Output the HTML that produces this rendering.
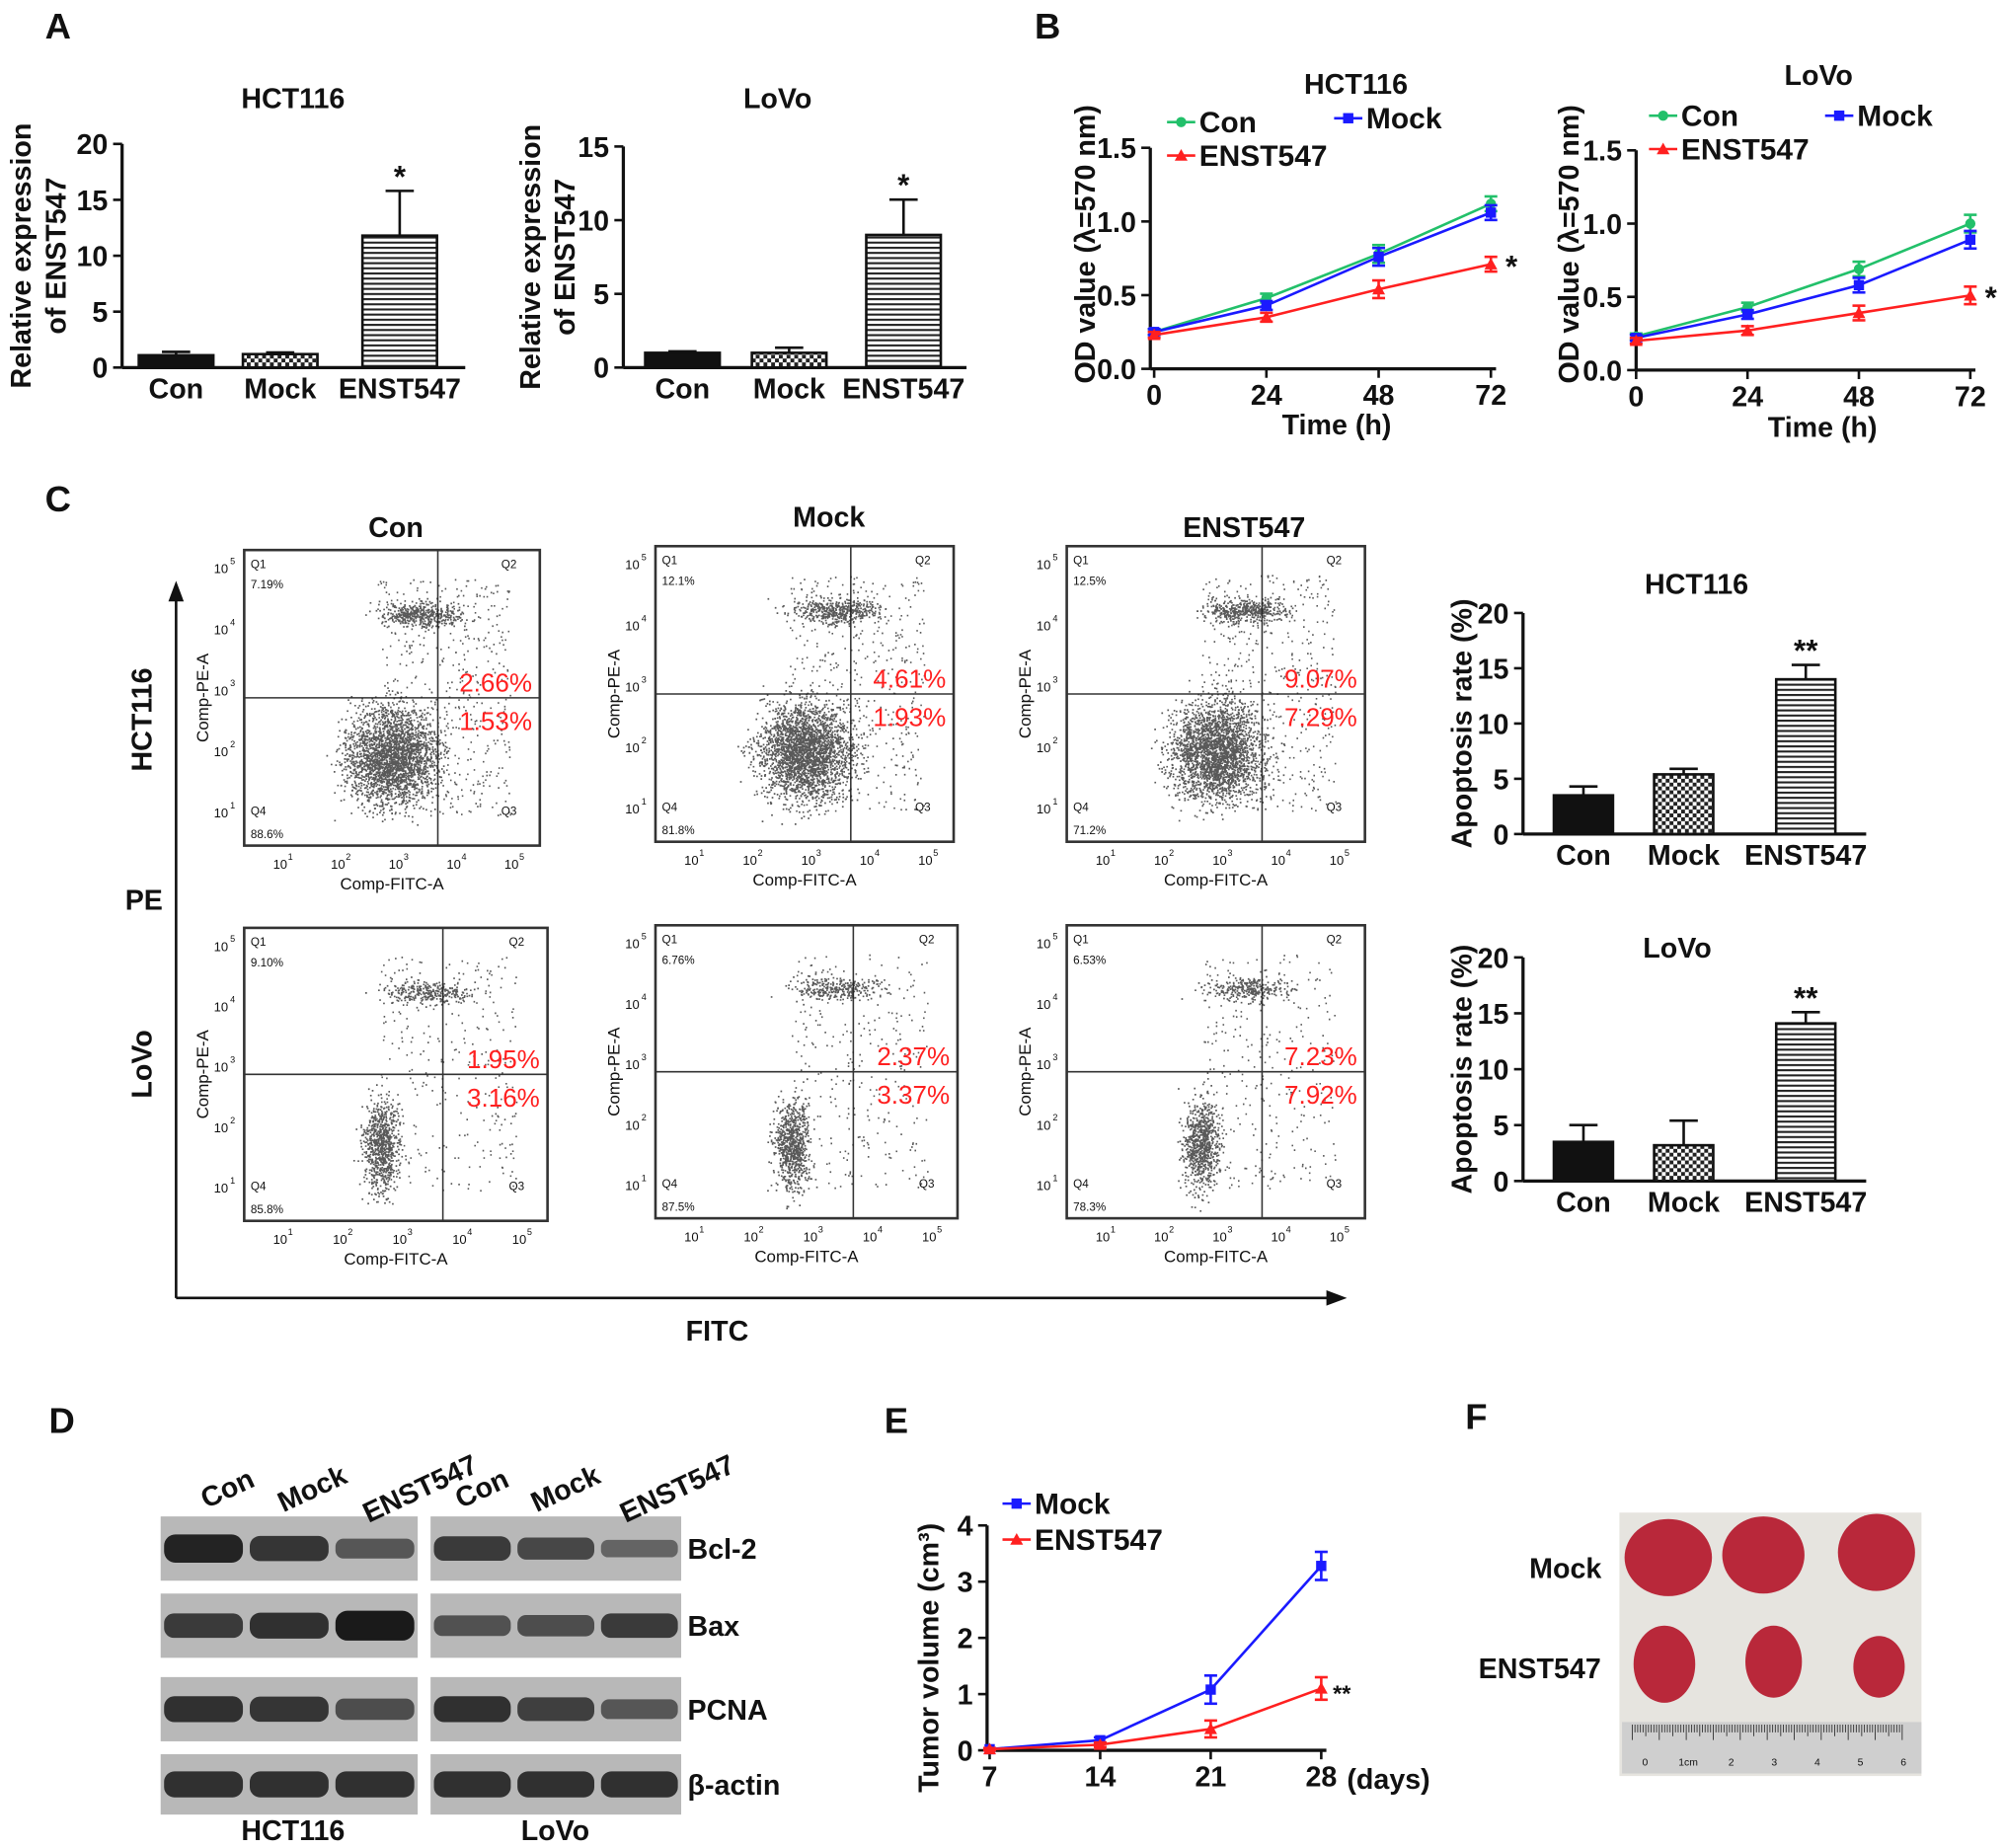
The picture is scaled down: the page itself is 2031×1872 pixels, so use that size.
<!DOCTYPE html>
<html><head><meta charset="utf-8"><style>
html,body{margin:0;padding:0;background:#fff}
svg{display:block}
text{font-family:"Liberation Sans",Arial,sans-serif}
</style></head><body>
<svg id="fig" width="2031" height="1872" viewBox="0 0 1560 1438" preserveAspectRatio="none" xmlns="http://www.w3.org/2000/svg">
<defs>
<pattern id="check" width="6" height="6" patternUnits="userSpaceOnUse"><rect width="6" height="6" fill="#fff"/><rect width="3" height="3" fill="#222"/><rect x="3" y="3" width="3" height="3" fill="#222"/></pattern>
<pattern id="hstripe" width="6" height="4" patternUnits="userSpaceOnUse"><rect width="6" height="4" fill="#fff"/><rect width="6" height="1.6" fill="#222"/></pattern>
</defs>
<g id="root"></g>
</svg>
<script>
// ---- Panel A data ----
const aCats=["Con","Mock","ENST547"];
const aHctVals=[1.1,1.2,11.8];
const aHctErr=[0.3,0.15,4.0];
const aLovoVals=[1.0,1.0,9.0];
const aLovoErr=[0.1,0.35,2.4];
const aHctTicks=[0,5,10,15,20];
const aLovoTicks=[0,5,10,15];
// ---- Panel B data ----
const bTimes=[0,24,48,72];
const bHctCon=[0.25,0.48,0.78,1.12];
const bHctMock=[0.25,0.43,0.76,1.06];
const bHctEnst=[0.23,0.35,0.54,0.71];
const bHctErr=[0.02,0.03,0.06,0.05];
const bLovoCon=[0.23,0.43,0.69,1.0];
const bLovoMock=[0.22,0.38,0.58,0.89];
const bLovoEnst=[0.2,0.27,0.39,0.51];
const bLovoErr=[0.02,0.03,0.05,0.06];
const bYTicks=[0.0,0.5,1.0,1.5];
// ---- Panel C apoptosis ----
const cHctVals=[3.5,5.4,14.0];
const cHctErr=[0.8,0.5,1.3];
const cLovoVals=[3.5,3.2,14.1];
const cLovoErr=[1.5,2.2,1.0];
const cTicks=[0,5,10,15,20];
const flowQ2=["2.66%","4.61%","9.07%","1.95%","2.37%","7.23%"];
const flowQ3=["1.53%","1.93%","7.29%","3.16%","3.37%","7.92%"];
const flowQ1=["7.19%","12.1%","12.5%","9.10%","6.76%","6.53%"];
const flowQ4=["88.6%","81.8%","71.2%","85.8%","87.5%","78.3%"];
// ---- Panel E ----
const eDays=[7,14,21,28];
const eMock=[0.02,0.18,1.08,3.28];
const eMockErr=[0.02,0.05,0.25,0.25];
const eEnst=[0.02,0.1,0.38,1.1];
const eEnstErr=[0.02,0.04,0.15,0.2];
const eTicks=[0,1,2,3,4];

const NS="http://www.w3.org/2000/svg";
const root=document.getElementById('root');
function el(tag,attrs,parent,txt){const e=document.createElementNS(NS,tag);for(const k in attrs)e.setAttribute(k,attrs[k]);if(txt!==undefined)e.textContent=txt;(parent||root).appendChild(e);return e;}
function T(x,y,s,size,opts){opts=opts||{};const t=el('text',{x:x,y:y,'font-size':size,'font-weight':opts.w||'bold','text-anchor':opts.a||'middle',fill:opts.fill||'#111'},opts.p,s);if(opts.rot)t.setAttribute('transform','rotate(-90 '+x+' '+y+')');return t;}

[["A",35,30],["B",805,30],["C",35,398],["D",38,1115],["E",688,1115],["F",1140,1112]].forEach(p=>{T(p[1],p[2],p[0],28,{a:'start',name:'panel-letter-'+p[0].toLowerCase()});});

function barChart(o){
  const g=el('g',{});
  
  
  const ys=v=>o.y0-(v/o.max)*(o.y0-o.ytop);
  el('line',{x1:o.ax,y1:o.ytop,x2:o.ax,y2:o.y0,stroke:'#111','stroke-width':2.5},g);
  el('line',{x1:o.ax,y1:o.y0,x2:o.xend,y2:o.y0,stroke:'#111','stroke-width':2.5},g);
  o.ticks.forEach(t=>{const y=ys(t);el('line',{x1:o.ax-7,y1:y,x2:o.ax,y2:y,stroke:'#111','stroke-width':2},g);T(o.ax-11,y+8,String(t),22,{a:'end',p:g,name:'y-tick-label'});});
  const fills=['#111','url(#check)','url(#hstripe)'];
  o.vals.forEach((v,i)=>{
    const cx=o.cx[i],y=ys(v);
    const r=el('rect',{x:cx-o.bw/2,y:y,width:o.bw,height:o.y0-y,fill:fills[i],stroke:'#111','stroke-width':2},g);
    
    
    const ye=ys(v+o.err[i]);
    el('line',{x1:cx,y1:y,x2:cx,y2:ye,stroke:'#111','stroke-width':2},g);
    el('line',{x1:cx-11,y1:ye,x2:cx+11,y2:ye,stroke:'#111','stroke-width':2},g);
    T(cx,o.y0+24,aCats[i],22,{p:g,name:'x-tick-label'});
    if(i==2)T(cx,ye-3,o.star,24,{p:g,name:'significance-star'});
  });
  T(o.titleX,o.titleY,o.title,22,{p:g,name:'chart-title'});
  if(o.ylab){o.ylab.forEach((l,k)=>T(o.ylabX+k*27,(o.y0+o.ytop)/2,l,22,{rot:1,p:g,name:'y-axis-title'}));}
}
barChart({name:'chart-a-hct116',ax:95,xend:362,y0:286,ytop:112,max:20,ticks:aHctTicks,vals:aHctVals,err:aHctErr,cx:[137,218,311],bw:58,star:'*',title:'HCT116',titleX:228,titleY:84,ylab:['Relative expression','of ENST547'],ylabX:24});
barChart({name:'chart-a-lovo',ax:485,xend:752,y0:286,ytop:114,max:15,ticks:aLovoTicks,vals:aLovoVals,err:aLovoErr,cx:[531,614,703],bw:58,star:'*',title:'LoVo',titleX:605,titleY:84,ylab:['Relative expression','of ENST547'],ylabX:420});
barChart({name:'chart-c-hct116-apoptosis',ax:1185,xend:1452,y0:649,ytop:477,max:20,ticks:cTicks,vals:cHctVals,err:cHctErr,cx:[1232,1310,1405],bw:46,star:'**',title:'HCT116',titleX:1320,titleY:462,ylab:['Apoptosis rate (%)'],ylabX:1145});
barChart({name:'chart-c-lovo-apoptosis',ax:1185,xend:1452,y0:919,ytop:745,max:20,ticks:cTicks,vals:cLovoVals,err:cLovoErr,cx:[1232,1310,1405],bw:46,star:'**',title:'LoVo',titleX:1305,titleY:745,ylab:['Apoptosis rate (%)'],ylabX:1145});

function lineChart(o){
  const g=el('g',{});
  
  
  const xs=v=>o.x0+(v-o.xmin)/(o.xmax-o.xmin)*(o.x1-o.x0);
  const ys=v=>o.y0-(v/o.ymax)*(o.y0-o.ytop);
  el('line',{x1:o.ax,y1:o.ytop,x2:o.ax,y2:o.y0,stroke:'#111','stroke-width':2.5},g);
  el('line',{x1:o.ax,y1:o.y0,x2:o.x1+4,y2:o.y0,stroke:'#111','stroke-width':2.5},g);
  o.yticks.forEach(t=>{const y=ys(t);el('line',{x1:o.ax-7,y1:y,x2:o.ax,y2:y,stroke:'#111','stroke-width':2},g);T(o.ax-11,y+8,o.yfmt(t),22,{a:'end',p:g,name:'y-tick-label'});});
  o.xticks.forEach(t=>{const x=xs(t);el('line',{x1:x,y1:o.y0,x2:x,y2:o.y0+7,stroke:'#111','stroke-width':2},g);T(x,o.y0+28,String(t),22,{p:g,name:'x-tick-label'});});
  o.series.forEach(s=>{
    const pts=o.xticks.map((t,i)=>xs(t)+','+ys(s.v[i])).join(' ');
    const pl=el('polyline',{points:pts,fill:'none',stroke:s.c,'stroke-width':2},g);
    
    
    o.xticks.forEach((t,i)=>{const x=xs(t),y=ys(s.v[i]),e=s.e[i];
      el('line',{x1:x,y1:ys(s.v[i]+e),x2:x,y2:ys(s.v[i]-e),stroke:s.c,'stroke-width':2},g);
      el('line',{x1:x-5,y1:ys(s.v[i]+e),x2:x+5,y2:ys(s.v[i]+e),stroke:s.c,'stroke-width':2},g);
      el('line',{x1:x-5,y1:ys(s.v[i]-e),x2:x+5,y2:ys(s.v[i]-e),stroke:s.c,'stroke-width':2},g);
      if(s.m=='sq')el('rect',{x:x-4,y:y-4,width:8,height:8,fill:s.c},g);
      else if(s.m=='tri')el('polygon',{points:(x)+','+(y-5)+' '+(x-5)+','+(y+4)+' '+(x+5)+','+(y+4),fill:s.c},g);
      else el('circle',{cx:x,cy:y,r:4,fill:s.c},g);
    });
    if(s.star){const l=s.v.length-1;T(xs(o.xticks[l])+16,ys(s.v[l])+10,s.star,s.star.length>1?18:24,{p:g,name:'significance-star'});}
  });
  o.legend.forEach(L=>{el('line',{x1:L.x,y1:L.y,x2:L.x+22,y2:L.y,stroke:L.c,'stroke-width':2},g);
    if(L.m=='sq')el('rect',{x:L.x+7,y:L.y-4,width:8,height:8,fill:L.c},g);else if(L.m=='tri')el('polygon',{points:(L.x+11)+','+(L.y-5)+' '+(L.x+6)+','+(L.y+4)+' '+(L.x+16)+','+(L.y+4),fill:L.c},g);else el('circle',{cx:L.x+11,cy:L.y,r:4,fill:L.c},g);
    T(L.x+25,L.y+8,L.t,23,{a:'start',p:g,name:'legend-entry'});});
  if(o.title)T(o.title[0],o.title[1],o.title[2],22,{p:g,name:'chart-title'});
  T(o.ylab[0],o.ylab[1],o.ylab[2],22,{rot:1,p:g,name:'y-axis-title'});
  T(o.xlab[0],o.xlab[1],o.xlab[2],22,{p:g,name:'x-axis-title',a:o.xlab[3]||'middle'});
}
const G='#22c06a',B='#1a1aff',R='#ff2020';
lineChart({name:'chart-b-hct116',ax:895,x0:898,x1:1160,xmin:0,xmax:72,y0:287,ytop:115,ymax:1.5,yticks:bYTicks,yfmt:t=>t.toFixed(1),xticks:bTimes,
 series:[{n:'con',v:bHctCon,e:bHctErr,c:G,m:'c'},{n:'mock',v:bHctMock,e:bHctErr,c:B,m:'sq'},{n:'enst547',v:bHctEnst,e:bHctErr,c:R,m:'tri',star:'*'}],
 legend:[{x:908,y:95,c:G,m:'c',t:'Con'},{x:1038,y:92,c:B,m:'sq',t:'Mock'},{x:908,y:121,c:R,m:'tri',t:'ENST547'}],
 title:[1055,73,'HCT116'],ylab:[852,190,'OD value (λ=570 nm)'],xlab:[1040,338,'Time (h)']});
lineChart({name:'chart-b-lovo',ax:1273,x0:1273,x1:1533,xmin:0,xmax:72,y0:288,ytop:117,ymax:1.5,yticks:bYTicks,yfmt:t=>t.toFixed(1),xticks:bTimes,
 series:[{n:'con',v:bLovoCon,e:bLovoErr,c:G,m:'c'},{n:'mock',v:bLovoMock,e:bLovoErr,c:B,m:'sq'},{n:'enst547',v:bLovoEnst,e:bLovoErr,c:R,m:'tri',star:'*'}],
 legend:[{x:1283,y:90,c:G,m:'c',t:'Con'},{x:1420,y:90,c:B,m:'sq',t:'Mock'},{x:1283,y:116,c:R,m:'tri',t:'ENST547'}],
 title:[1415,66,'LoVo'],ylab:[1228,190,'OD value (λ=570 nm)'],xlab:[1418,340,'Time (h)']});
lineChart({name:'chart-e-tumor-volume',ax:768,x0:770,x1:1028,xmin:7,xmax:28,y0:1362,ytop:1187,ymax:4,yticks:eTicks,yfmt:t=>String(t),xticks:eDays,
 series:[{n:'mock',v:eMock,e:eMockErr,c:B,m:'sq'},{n:'enst547',v:eEnst,e:eEnstErr,c:R,m:'tri',star:'**'}],
 legend:[{x:780,y:1170,c:B,m:'sq',t:'Mock'},{x:780,y:1198,c:R,m:'tri',t:'ENST547'}],
 ylab:[730,1290,'Tumor volume (cm³)'],xlab:[1048,1392,'(days)','start']});

// Panel C flow plots (decorative scatter, seeded)
let seed=7;function rnd(){seed=(seed*16807)%2147483647;return seed/2147483647;}
function gauss(){return (rnd()+rnd()+rnd()+rnd()-2)/2;}
const boxes=[[190,428,420,658],[510,425,742,655],[830,425,1062,655],[190,722,426,950],[510,720,745,948],[830,720,1062,948]];
const titles=[["Con",308,418],["Mock",645,410],["ENST547",968,418]];
titles.forEach(t=>T(t[1],t[2],t[0],22,{name:'flow-column-title'}));
boxes.forEach((b,i)=>{
  const g=el('g',{});
  
  
  const [x0,y0,x1,y1]=b,w=x1-x0,h=y1-y0;
  el('rect',{x:x0,y:y0,width:w,height:h,fill:'#fff',stroke:'#333','stroke-width':2},g);
  const qx=x0+w*0.655,qy=y0+h*0.5;
  el('line',{x1:qx,y1:y0,x2:qx,y2:y1,stroke:'#333','stroke-width':1.2},g);
  el('line',{x1:x0,y1:qy,x2:x1,y2:qy,stroke:'#333','stroke-width':1.2},g);
  let d='';const top=i<3;
  const nMain=top?2600:800,nTop=top?450:300,nScat=top?500:300;
  for(let k=0;k<nMain;k++){const x=x0+w*(top?0.5:0.45)+gauss()*w*(top?0.26:0.1),y=y0+h*(top?0.7:0.75)+gauss()*h*(top?0.28:0.26);if(x>x0+2&&x<x1-2&&y>y0+2&&y<y1-2)d+='M'+x.toFixed(1)+' '+y.toFixed(1)+'h1.3';}
  for(let k=0;k<nTop;k++){const x=x0+w*0.6+gauss()*w*0.25,y=y0+h*0.22+gauss()*h*0.07;d+='M'+x.toFixed(1)+' '+y.toFixed(1)+'h1.3';}
  for(let k=0;k<nScat;k++){const x=x0+w*(0.45+rnd()*0.45),y=y0+h*(0.1+rnd()*0.8);d+='M'+x.toFixed(1)+' '+y.toFixed(1)+'h1.2';}
  el('path',{d:d,stroke:'#222','stroke-width':1.3,fill:'none',opacity:0.75},g);
  T(x0+5,y0+14,'Q1',9,{a:'start',w:'normal',p:g,name:'quadrant-label'});
  T(x0+5,y0+30,flowQ1[i],9,{a:'start',w:'normal',p:g,name:'quadrant-value'});
  T(x1-30,y0+14,'Q2',9,{a:'start',w:'normal',p:g,name:'quadrant-label'});
  T(x0+5,y1-24,'Q4',9,{a:'start',w:'normal',p:g,name:'quadrant-label'});
  T(x0+5,y1-6,flowQ4[i],9,{a:'start',w:'normal',p:g,name:'quadrant-value'});
  T(x1-30,y1-24,'Q3',9,{a:'start',w:'normal',p:g,name:'quadrant-label'});
  T(x1-6,qy-5,flowQ2[i],20,{a:'end',w:'normal',fill:'#ff2020',p:g,name:'q2-percent'});
  T(x1-6,qy+25,flowQ3[i],20,{a:'end',w:'normal',fill:'#ff2020',p:g,name:'q3-percent'});
  ['1','2','3','4','5'].forEach((e,k)=>{const ty=y1-22-k*(h-40)/4;T(x0-18,ty,'10',10,{w:'normal',p:g,name:'y-tick-label'});T(x0-9,ty-7,e,7,{w:'normal',p:g,name:'y-tick-exp'});
    const tx=x0+28+k*(w-50)/4;T(tx,y1+18,'10',10,{w:'normal',p:g,name:'x-tick-label'});T(tx+8,y1+11,e,7,{w:'normal',p:g,name:'x-tick-exp'});});
  T((x0+x1)/2,y1+34,'Comp-FITC-A',13,{w:'normal',p:g,name:'x-axis-title'});
  T(x0-28,(y0+y1)/2,'Comp-PE-A',13,{w:'normal',rot:1,p:g,name:'y-axis-title'});
});
el('line',{x1:137,y1:1010,x2:137,y2:465,stroke:'#111','stroke-width':2});
el('polygon',{points:'137,452 131,468 143,468',fill:'#111'});
el('line',{x1:137,y1:1010,x2:1035,y2:1010,stroke:'#111','stroke-width':2});
el('polygon',{points:'1048,1010 1032,1004 1032,1016',fill:'#111'});
T(118,560,'HCT116',22,{rot:1,name:'row-label-hct116'});
T(118,828,'LoVo',22,{rot:1,name:'row-label-lovo'});
T(112,708,'PE',22,{name:'pe-axis-title'});
T(558,1043,'FITC',22,{name:'fitc-axis-title'});

// Panel D western blot
const wg=el('g',{});


const rows=[['Bcl-2',1180,1230,[1,0.8,0.45],[0.75,0.6,0.3]],['Bax',1240,1290,[0.75,0.85,1.1],[0.5,0.55,0.75]],['PCNA',1305,1355,[0.85,0.8,0.55],[0.85,0.7,0.45]],['β-actin',1365,1412,[0.85,0.85,0.85],[0.85,0.85,0.85]]];
rows.forEach(r=>{
  [[125,325,r[3]],[335,530,r[4]]].forEach(bl=>{
    el('rect',{x:bl[0],y:r[1],width:bl[1]-bl[0],height:r[2]-r[1],fill:'#b8b8b8'},wg);
    const lw=(bl[1]-bl[0])/3;
    bl[2].forEach((s,k)=>{const cx=bl[0]+lw*(k+0.5),cy=(r[1]+r[2])/2,hh=5+s*6;el('rect',{x:cx-lw*0.46,y:cy-hh,width:lw*0.92,height:2*hh,rx:hh*0.8,fill:'#1a1a1a',opacity:Math.min(1,0.35+s*0.6)},wg);});
  });
  T(535,(r[1]+r[2])/2+8,r[0],22,{a:'start',p:wg,name:'protein-label'});
});
[['Con',180],['Mock',246],['ENST547',330],['Con',378],['Mock',443],['ENST547',530]].forEach(l=>{const t=T(l[1],1165,l[0],22,{a:'middle',p:wg,name:'lane-label'});t.setAttribute('transform','rotate(-25 '+l[1]+' 1165)');});
T(228,1432,'HCT116',22,{p:wg,name:'cell-line-label'});
T(432,1432,'LoVo',22,{p:wg,name:'cell-line-label'});

// Panel F photo
const fg=el('g',{});


el('rect',{x:1260,y:1177,width:235,height:205,fill:'#e6e4df'},fg);
[[1298,1212,34,30],[1372,1210,32,30],[1460,1208,30,30],[1295,1295,24,30],[1380,1293,22,28],[1462,1297,20,24]].forEach(t=>el('ellipse',{cx:t[0],cy:t[1],rx:t[2],ry:t[3],fill:'#b9283a'},fg));
el('rect',{x:1262,y:1340,width:233,height:40,fill:'#cfcfcf'},fg);
let rd='';for(let k=0;k<=100;k++){const x=1270+k*2.1;rd+='M'+x+' 1342v'+(k%10==0?12:k%5==0?9:6);}
el('path',{d:rd,stroke:'#333','stroke-width':0.7},fg);
['0','1cm','2','3','4','5','6'].forEach((s,k)=>T(1280+k*33.5,1374,s,8,{w:'normal',p:fg,name:'ruler-label'}));
T(1218,1228,'Mock',22,{p:fg,name:'mock-label'});
T(1198,1306,'ENST547',22,{p:fg,name:'enst547-label'});
</script>
</body></html>
